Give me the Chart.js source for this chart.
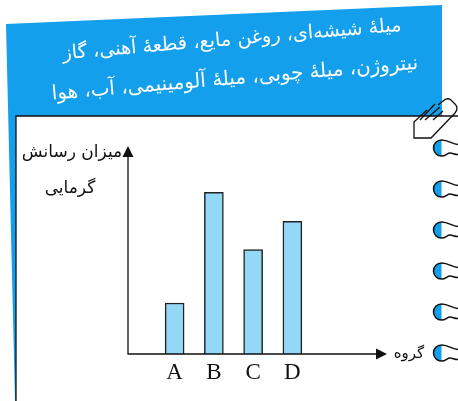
<!DOCTYPE html>
<html lang="fa">
<head>
  <meta charset="UTF-8">
  <title>میزان رسانش گرمایی</title>
  <script src="https://cdn.jsdelivr.net/npm/chart.js"></script>
  <style>
    html, body { margin: 0; padding: 0; background: #fff; overflow: hidden; }
    canvas { display: block; }
  </style>
</head>
<body>
<canvas id="chart" width="458" height="401"></canvas>
<script>
  // داده‌ها
  const categories = ['A', 'B', 'C', 'D'];
  const conductivity = [1.0, 3.17, 2.05, 2.6];
  const yLabelLines = ['میزان رسانش', 'گرمایی'];
  const xLabel = 'گروه';
  const noteLines = [
    'میلهٔ شیشه‌ای، روغن مایع، قطعهٔ آهنی، گاز',
    'نیتروژن، میلهٔ چوبی، میلهٔ آلومینیمی، آب، هوا'
  ];
  const ringRows = [148, 189, 230, 271, 312, 353];

  const arabicFont = '"DejaVu Sans", sans-serif';

  function arrow(ctx, x, y, dx, dy) {
    // نوک پیکان
    const len = 11, half = 5.5;
    ctx.beginPath();
    ctx.moveTo(x, y);
    ctx.lineTo(x - dx * len - dy * half, y - dy * len - dx * half);
    ctx.lineTo(x - dx * len + dy * half, y - dy * len + dx * half);
    ctx.closePath();
    ctx.fill();
  }

  function text(ctx, str, x, y, size) {
    ctx.font = size + 'px ' + arabicFont;
    ctx.fillText(str, x, y);
  }

  const notebook = {
    id: 'notebook',
    beforeDraw(chart) {
      const ctx = chart.ctx;
      ctx.save();
      // کاغذ آبی
      ctx.fillStyle = '#149fec';
      ctx.beginPath();
      ctx.moveTo(6, 24);
      ctx.lineTo(442, 5);
      ctx.lineTo(442, 116);
      ctx.lineTo(16, 116);
      ctx.lineTo(16, 401);
      ctx.lineTo(15, 401);
      ctx.closePath();
      ctx.fill();

      // متن بالای کاغذ
      ctx.fillStyle = '#fff';
      ctx.direction = 'rtl';
      ctx.textAlign = 'center';
      ctx.textBaseline = 'middle';
      ctx.save();
      ctx.translate(232, 40);
      ctx.rotate(-4.8 * Math.PI / 180);
      text(ctx, noteLines[0], 0, 0, 19.3);
      ctx.restore();
      ctx.save();
      ctx.translate(235, 79);
      ctx.rotate(-4.8 * Math.PI / 180);
      text(ctx, noteLines[1], 0, 0, 19.9);
      ctx.restore();

      // کادر دفترچه
      ctx.strokeStyle = '#111';
      ctx.lineWidth = 1.3;
      ctx.beginPath();
      ctx.moveTo(16, 401);
      ctx.lineTo(16, 116);
      ctx.lineTo(458, 116);
      ctx.stroke();

      // حلقه‌ها
      ringRows.forEach(y => {
        ctx.fillStyle = '#149fec';
        ctx.beginPath();
        ctx.arc(441.5, y, 8, Math.PI / 2, Math.PI * 1.5);
        ctx.fill();
        ctx.lineWidth = 1.5;
        ctx.beginPath();
        ctx.moveTo(458, y - 3.5);
        ctx.bezierCurveTo(452, y - 3.5, 449, y - 8, 441.5, y - 8);
        ctx.arc(441.5, y, 8, Math.PI * 1.5, Math.PI / 2, true);
        ctx.bezierCurveTo(446, y + 8, 447, y + 5, 450, y + 5);
        ctx.bezierCurveTo(453, y + 5, 454, y + 6.5, 458, y + 6.5);
        ctx.stroke();
      });

      // مداد
      ctx.lineWidth = 1.3;
      ctx.beginPath();
      ctx.moveTo(427, 110);
      ctx.lineTo(414, 122);
      ctx.lineTo(414, 138);
      ctx.lineTo(431, 138);
      ctx.lineTo(455, 113);
      ctx.quadraticCurveTo(459, 108, 455, 104);
      ctx.lineTo(451, 100);
      ctx.quadraticCurveTo(447, 97, 443, 101);
      ctx.lineTo(438, 105);
      ctx.moveTo(420, 120); ctx.lineTo(435, 104);
      ctx.moveTo(425, 120); ctx.lineTo(440, 107);
      ctx.moveTo(433, 120); ctx.lineTo(443, 111);
      ctx.stroke();
      ctx.restore();
    },
    afterDatasetsDraw(chart) {
      // محورها با نوک پیکان
      const ctx = chart.ctx;
      const y0 = chart.scales.y.getPixelForValue(0);
      const top = chart.scales.y.top;
      const originX = 128, arrowEnd = 387;
      ctx.save();
      ctx.strokeStyle = '#111';
      ctx.fillStyle = '#111';
      ctx.lineWidth = 1.3;
      ctx.beginPath();
      ctx.moveTo(originX, top + 5);
      ctx.lineTo(originX, y0);
      ctx.lineTo(arrowEnd - 5, y0);
      ctx.stroke();
      arrow(ctx, originX, top, 0, -1);
      arrow(ctx, arrowEnd, y0, 1, 0);

      ctx.direction = 'rtl';
      ctx.textAlign = 'center';
      ctx.textBaseline = 'middle';
      text(ctx, yLabelLines[0], 72, 153, 17);
      text(ctx, yLabelLines[1], 70, 189, 17);
      text(ctx, xLabel, 409, 354, 15);
      ctx.restore();
    }
  };

  new Chart(document.getElementById('chart'), {
    type: 'bar',
    data: {
      labels: categories,
      datasets: [{
        data: conductivity,
        backgroundColor: '#93d8f7',
        borderColor: '#222',
        borderWidth: 1.5,
        barThickness: 19
      }]
    },
    options: {
      responsive: false,
      animation: false,
      devicePixelRatio: 1,
      layout: { padding: { left: 155, right: 146, top: 146, bottom: 0 } },
      plugins: { legend: { display: false }, tooltip: { enabled: false } },
      scales: {
        x: {
          grid: { display: false },
          border: { display: false },
          afterFit(scale) { scale.height = 47; },
          ticks: {
            color: '#111',
            padding: -3,
            maxRotation: 0,
            font: { family: '"Liberation Serif", serif', size: 23 }
          }
        },
        y: {
          display: false,
          min: 0,
          max: 4.08
        }
      }
    },
    plugins: [notebook]
  });
</script>
</body>
</html>
